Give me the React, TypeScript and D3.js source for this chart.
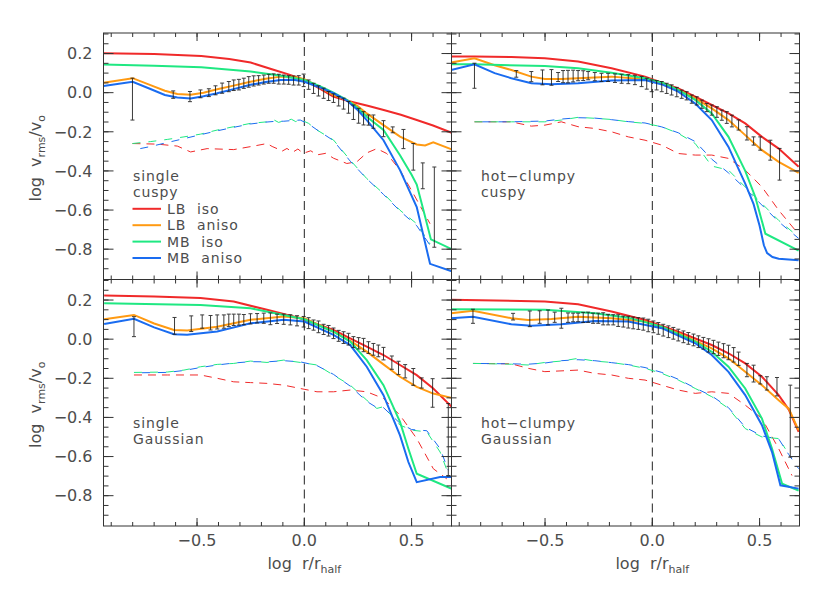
import React from 'react';
import * as d3 from 'd3';

// ---------- axes ----------
const X_DOMAIN = [-0.936, 0.686];
const Y_DOMAIN = [-0.955, 0.305];
const X_MAJOR = [-0.5, 0, 0.5];
const X_LABELS = ['−0.5', '0.0', '0.5'];
const Y_MAJOR = [0.2, 0, -0.2, -0.4, -0.6, -0.8];
const Y_LABELS = ['0.2', '0.0', '−0.2', '−0.4', '−0.6', '−0.8'];
const X_MINOR = d3.range(-9, 7).map((i) => i / 10);
const Y_MINOR = d3.range(-18, 7).map((i) => i * 0.05);

const SERIES_NAMES = ['LB  iso', 'LB  aniso', 'MB  iso', 'MB  aniso'];

// ---------- top-left: single cuspy ----------
const TL_LB_ISO = [[-0.936,0.202],[-0.7,0.198],[-0.48,0.188],[-0.35,0.172],[-0.25,0.154],[-0.14,0.116],[-0.07,0.092],[0,0.065],[0.07,0.022],[0.135,-0.02],[0.2,-0.041],[0.3,-0.068],[0.37,-0.089],[0.45,-0.113],[0.524,-0.14],[0.6,-0.168],[0.687,-0.205]];
const TL_LB_ANISO = [[-0.936,0.051],[-0.8,0.074],[-0.72,0.04],[-0.65,0.01],[-0.592,-0.007],[-0.53,-0.01],[-0.47,0.0],[-0.406,0.017],[-0.33,0.036],[-0.251,0.056],[-0.18,0.071],[-0.11,0.082],[-0.05,0.081],[0,0.069],[0.07,0.03],[0.136,-0.012],[0.198,-0.037],[0.25,-0.07],[0.291,-0.106],[0.369,-0.166],[0.446,-0.225],[0.524,-0.265],[0.563,-0.27],[0.601,-0.254],[0.687,-0.29]];
const TL_MB_ISO = [[-0.936,0.144],[-0.7,0.138],[-0.48,0.13],[-0.25,0.108],[-0.1,0.085],[0,0.065],[0.07,0.035],[0.136,0.0],[0.198,-0.037],[0.25,-0.08],[0.291,-0.123],[0.369,-0.19],[0.446,-0.32],[0.5,-0.42],[0.524,-0.47],[0.555,-0.6],[0.59,-0.75],[0.687,-0.8]];
const TL_MB_ANISO = [[-0.936,0.034],[-0.8,0.056],[-0.72,0.02],[-0.65,-0.012],[-0.592,-0.025],[-0.53,-0.03],[-0.47,-0.018],[-0.406,-0.003],[-0.33,0.018],[-0.251,0.04],[-0.18,0.055],[-0.11,0.065],[-0.05,0.066],[0,0.056],[0.07,0.028],[0.136,-0.003],[0.198,-0.04],[0.25,-0.09],[0.291,-0.14],[0.369,-0.243],[0.446,-0.396],[0.524,-0.585],[0.586,-0.875],[0.687,-0.913]];
const TL_D_RED = [[-0.801,-0.26],[-0.685,-0.263],[-0.592,-0.273],[-0.53,-0.303],[-0.453,-0.286],[-0.329,-0.291],[-0.236,-0.273],[-0.174,-0.26],[-0.15,-0.275],[-0.127,-0.286],[-0.105,-0.3],[-0.081,-0.285],[-0.055,-0.305],[-0.03,-0.288],[-0.005,-0.31],[0.03,-0.297],[0.059,-0.318],[0.1,-0.31],[0.136,-0.335],[0.198,-0.362],[0.245,-0.353],[0.291,-0.308],[0.338,-0.286],[0.384,-0.311],[0.446,-0.396],[0.508,-0.516],[0.586,-0.67]];
const TL_D_GREEN = [[-0.801,-0.26],[-0.716,-0.25],[-0.639,-0.239],[-0.561,-0.226],[-0.484,-0.212],[-0.406,-0.191],[-0.329,-0.174],[-0.251,-0.157],[-0.174,-0.149],[-0.14,-0.14],[-0.12,-0.152],[-0.096,-0.144],[-0.06,-0.136],[-0.04,-0.148],[-0.019,-0.137],[0.02,-0.157],[0.059,-0.191],[0.136,-0.242],[0.214,-0.345],[0.291,-0.439],[0.369,-0.516],[0.446,-0.601],[0.524,-0.67],[0.586,-0.773]];
const TL_D_BLUE = [[-0.801,-0.294],[-0.716,-0.275],[-0.639,-0.255],[-0.561,-0.235],[-0.484,-0.215],[-0.406,-0.195],[-0.329,-0.177],[-0.251,-0.16],[-0.174,-0.15],[-0.13,-0.146],[-0.096,-0.146],[-0.05,-0.142],[-0.019,-0.14],[0.02,-0.16],[0.059,-0.19],[0.136,-0.245],[0.214,-0.35],[0.291,-0.44],[0.369,-0.52],[0.446,-0.605],[0.524,-0.68],[0.586,-0.78]];
const TL_EB = [[-0.801,-0.033,0.107],[-0.611,-0.01,0.019],[-0.533,-0.02,0.026],[-0.484,-0.006,0.02],[-0.445,0.0,0.02],[-0.414,0.012,0.023],[-0.383,0.023,0.026],[-0.352,0.031,0.026],[-0.329,0.038,0.027],[-0.305,0.041,0.027],[-0.282,0.048,0.026],[-0.259,0.055,0.027],[-0.236,0.06,0.026],[-0.213,0.063,0.024],[-0.189,0.067,0.023],[-0.166,0.071,0.023],[-0.143,0.072,0.024],[-0.119,0.069,0.025],[-0.096,0.067,0.023],[-0.073,0.065,0.022],[-0.05,0.062,0.023],[-0.026,0.063,0.024],[-0.003,0.063,0.032],[0.02,0.041,0.024],[0.043,0.022,0.026],[0.066,0.009,0.026],[0.09,-0.003,0.026],[0.113,-0.017,0.023],[0.136,-0.028,0.022],[0.16,-0.044,0.024],[0.183,-0.056,0.028],[0.206,-0.075,0.03],[0.229,-0.1,0.037],[0.253,-0.118,0.038],[0.276,-0.131,0.034],[0.299,-0.14,0.026],[0.322,-0.148,0.034],[0.369,-0.184,0.041],[0.412,-0.19,0.015],[0.462,-0.237,0.049],[0.508,-0.328,0.068],[0.552,-0.425,0.066],[0.606,-0.585,0.205]];

// ---------- top-right: hot-clumpy cuspy ----------
const TR_LB_ISO = [[-0.938,0.185],[-0.829,0.185],[-0.657,0.182],[-0.501,0.176],[-0.346,0.159],[-0.19,0.125],[-0.034,0.082],[0.121,0.022],[0.2,-0.02],[0.277,-0.063],[0.355,-0.106],[0.433,-0.157],[0.511,-0.226],[0.589,-0.286],[0.682,-0.379]];
const TR_LB_ANISO = [[-0.938,0.154],[-0.829,0.176],[-0.735,0.14],[-0.657,0.116],[-0.564,0.082],[-0.501,0.07],[-0.424,0.07],[-0.346,0.074],[-0.19,0.082],[-0.034,0.069],[0.05,0.045],[0.121,0.014],[0.2,-0.029],[0.277,-0.08],[0.355,-0.14],[0.433,-0.217],[0.511,-0.294],[0.589,-0.354],[0.682,-0.41]];
const TR_MB_ISO = [[-0.938,0.145],[-0.829,0.145],[-0.501,0.136],[-0.346,0.125],[-0.19,0.102],[-0.034,0.074],[0.05,0.05],[0.121,0.014],[0.2,-0.037],[0.277,-0.106],[0.355,-0.226],[0.433,-0.4],[0.48,-0.533],[0.527,-0.721],[0.682,-0.807]];
const TR_MB_ANISO = [[-0.938,0.116],[-0.829,0.145],[-0.735,0.1],[-0.657,0.074],[-0.564,0.048],[-0.47,0.043],[-0.346,0.048],[-0.19,0.062],[-0.034,0.065],[0.05,0.04],[0.121,0.005],[0.2,-0.055],[0.277,-0.14],[0.355,-0.277],[0.433,-0.465],[0.472,-0.57],[0.5,-0.68],[0.52,-0.78],[0.535,-0.82],[0.56,-0.84],[0.589,-0.849],[0.682,-0.857]];
const TR_D_RED = [[-0.829,-0.149],[-0.657,-0.149],[-0.564,-0.171],[-0.501,-0.166],[-0.424,-0.149],[-0.346,-0.174],[-0.268,-0.183],[-0.19,-0.2],[-0.112,-0.226],[-0.034,-0.243],[0.044,-0.268],[0.121,-0.311],[0.2,-0.319],[0.277,-0.319],[0.355,-0.336],[0.433,-0.396],[0.511,-0.482],[0.589,-0.601],[0.667,-0.704]];
const TR_D_GREEN = [[-0.829,-0.149],[-0.657,-0.149],[-0.501,-0.149],[-0.424,-0.14],[-0.346,-0.126],[-0.268,-0.131],[-0.19,-0.137],[-0.112,-0.149],[-0.034,-0.157],[0.044,-0.174],[0.121,-0.208],[0.2,-0.26],[0.277,-0.375],[0.355,-0.396],[0.433,-0.482],[0.511,-0.567],[0.589,-0.653],[0.682,-0.738]];
const TR_D_BLUE = [[-0.829,-0.149],[-0.657,-0.149],[-0.501,-0.145],[-0.424,-0.135],[-0.346,-0.128],[-0.268,-0.13],[-0.19,-0.138],[-0.112,-0.148],[-0.034,-0.155],[0.044,-0.175],[0.121,-0.205],[0.2,-0.25],[0.277,-0.34],[0.355,-0.41],[0.433,-0.49],[0.511,-0.575],[0.589,-0.66],[0.682,-0.745]];
const TR_EB = [[-0.829,0.0865,0.064],[-0.634,0.096,0.017],[-0.564,0.082,0.026],[-0.512,0.078,0.038],[-0.47,0.078,0.04],[-0.439,0.08,0.023],[-0.416,0.082,0.031],[-0.393,0.082,0.032],[-0.369,0.085,0.03],[-0.346,0.087,0.026],[-0.322,0.087,0.025],[-0.299,0.087,0.021],[-0.268,0.082,0.021],[-0.237,0.078,0.021],[-0.206,0.078,0.021],[-0.174,0.074,0.022],[-0.143,0.071,0.023],[-0.112,0.069,0.023],[-0.081,0.065,0.024],[-0.05,0.057,0.026],[-0.026,0.046,0.028],[-0.003,0.035,0.03],[0.02,0.038,0.024],[0.044,0.031,0.026],[0.067,0.022,0.026],[0.09,0.014,0.026],[0.114,0.003,0.024],[0.137,-0.008,0.021],[0.16,-0.016,0.021],[0.184,-0.033,0.021],[0.207,-0.042,0.021],[0.231,-0.059,0.021],[0.254,-0.076,0.021],[0.277,-0.089,0.026],[0.301,-0.099,0.027],[0.324,-0.115,0.026],[0.347,-0.127,0.03],[0.371,-0.145,0.03],[0.402,-0.165,0.026],[0.441,-0.208,0.034],[0.472,-0.247,0.021],[0.503,-0.26,0.034],[0.55,-0.294,0.051],[0.593,-0.366,0.081]];

// ---------- bottom-left: single Gaussian ----------
const BL_LB_ISO = [[-0.933,0.223],[-0.7,0.218],[-0.484,0.21],[-0.329,0.192],[-0.174,0.15],[-0.019,0.107],[0.136,0.047],[0.214,0.004],[0.291,-0.038],[0.369,-0.081],[0.446,-0.132],[0.524,-0.184],[0.601,-0.252],[0.687,-0.346]];
const BL_LB_ANISO = [[-0.933,0.102],[-0.794,0.124],[-0.7,0.08],[-0.608,0.047],[-0.546,0.044],[-0.406,0.064],[-0.251,0.099],[-0.096,0.116],[0,0.107],[0.136,0.038],[0.214,-0.009],[0.291,-0.064],[0.369,-0.129],[0.446,-0.192],[0.524,-0.244],[0.601,-0.278],[0.687,-0.3]];
const BL_MB_ISO = [[-0.933,0.184],[-0.484,0.175],[-0.251,0.158],[-0.096,0.124],[0,0.102],[0.136,0.038],[0.214,-0.012],[0.291,-0.107],[0.369,-0.235],[0.446,-0.423],[0.485,-0.56],[0.524,-0.688],[0.687,-0.765]];
const BL_MB_ANISO = [[-0.933,0.077],[-0.794,0.104],[-0.7,0.06],[-0.608,0.025],[-0.546,0.022],[-0.406,0.039],[-0.251,0.081],[-0.096,0.099],[0,0.09],[0.136,0.022],[0.214,-0.03],[0.291,-0.141],[0.369,-0.286],[0.446,-0.492],[0.485,-0.628],[0.524,-0.731],[0.633,-0.705],[0.687,-0.705]];
const BL_D_RED = [[-0.794,-0.183],[-0.639,-0.183],[-0.484,-0.183],[-0.406,-0.2],[-0.329,-0.218],[-0.251,-0.222],[-0.174,-0.226],[-0.096,-0.235],[-0.019,-0.252],[0.059,-0.269],[0.136,-0.269],[0.214,-0.26],[0.291,-0.269],[0.369,-0.303],[0.446,-0.389],[0.524,-0.508],[0.601,-0.662],[0.664,-0.714]];
const BL_D_GREEN = [[-0.794,-0.17],[-0.639,-0.168],[-0.561,-0.158],[-0.484,-0.141],[-0.406,-0.129],[-0.329,-0.124],[-0.251,-0.112],[-0.174,-0.119],[-0.096,-0.107],[-0.019,-0.119],[0.059,-0.132],[0.136,-0.184],[0.214,-0.235],[0.291,-0.312],[0.338,-0.354],[0.369,-0.345],[0.446,-0.44],[0.508,-0.466],[0.571,-0.474],[0.633,-0.577],[0.671,-0.688]];
const BL_D_BLUE = [[-0.794,-0.172],[-0.639,-0.17],[-0.561,-0.16],[-0.484,-0.145],[-0.406,-0.132],[-0.329,-0.122],[-0.251,-0.115],[-0.174,-0.116],[-0.096,-0.11],[-0.019,-0.116],[0.059,-0.135],[0.136,-0.18],[0.214,-0.24],[0.291,-0.318],[0.338,-0.35],[0.369,-0.35],[0.446,-0.43],[0.5,-0.462],[0.571,-0.468],[0.633,-0.56],[0.671,-0.67]];
const BL_EB = [[-0.794,0.064,0.051],[-0.605,0.068,0.043],[-0.527,0.079,0.04],[-0.476,0.09,0.034],[-0.437,0.084,0.037],[-0.406,0.088,0.036],[-0.375,0.09,0.034],[-0.352,0.096,0.032],[-0.329,0.099,0.029],[-0.305,0.1,0.028],[-0.282,0.1,0.026],[-0.251,0.104,0.026],[-0.22,0.107,0.024],[-0.189,0.107,0.026],[-0.158,0.104,0.03],[-0.127,0.104,0.024],[-0.096,0.102,0.026],[-0.065,0.099,0.026],[-0.034,0.094,0.026],[-0.003,0.089,0.027],[0.02,0.082,0.028],[0.043,0.072,0.026],[0.066,0.063,0.03],[0.09,0.05,0.026],[0.113,0.043,0.027],[0.136,0.03,0.027],[0.16,0.017,0.028],[0.183,0.008,0.03],[0.206,0.0,0.03],[0.229,-0.015,0.028],[0.253,-0.021,0.029],[0.276,-0.03,0.034],[0.299,-0.043,0.03],[0.322,-0.052,0.03],[0.345,-0.06,0.03],[0.369,-0.074,0.032],[0.408,-0.12,0.034],[0.439,-0.147,0.034],[0.47,-0.164,0.034],[0.508,-0.193,0.043],[0.547,-0.224,0.026],[0.598,-0.275,0.073],[0.671,-0.513,0.184]];

// ---------- bottom-right: hot-clumpy Gaussian ----------
const BR_LB_ISO = [[-0.938,0.201],[-0.501,0.193],[-0.346,0.179],[-0.19,0.141],[-0.034,0.098],[0.121,0.038],[0.277,-0.03],[0.355,-0.072],[0.433,-0.124],[0.511,-0.192],[0.589,-0.286],[0.636,-0.36],[0.682,-0.474]];
const BR_LB_ANISO = [[-0.938,0.133],[-0.836,0.145],[-0.657,0.107],[-0.579,0.098],[-0.47,0.103],[-0.346,0.115],[-0.19,0.107],[-0.034,0.09],[0.121,0.03],[0.277,-0.047],[0.355,-0.098],[0.433,-0.167],[0.511,-0.235],[0.589,-0.312],[0.636,-0.355],[0.682,-0.466]];
const BR_MB_ISO = [[-0.938,0.153],[-0.501,0.15],[-0.268,0.133],[-0.112,0.11],[0.044,0.064],[0.2,-0.012],[0.277,-0.064],[0.355,-0.141],[0.433,-0.252],[0.511,-0.406],[0.558,-0.56],[0.605,-0.739],[0.682,-0.774]];
const BR_MB_ANISO = [[-0.938,0.107],[-0.836,0.115],[-0.657,0.076],[-0.564,0.069],[-0.424,0.076],[-0.268,0.093],[-0.112,0.09],[0.044,0.056],[0.2,-0.021],[0.277,-0.081],[0.355,-0.167],[0.433,-0.286],[0.511,-0.44],[0.558,-0.577],[0.597,-0.747],[0.682,-0.764]];
const BR_D_RED = [[-0.836,-0.124],[-0.657,-0.126],[-0.579,-0.149],[-0.501,-0.166],[-0.346,-0.158],[-0.268,-0.175],[-0.19,-0.183],[-0.112,-0.2],[-0.034,-0.209],[0.044,-0.235],[0.121,-0.26],[0.2,-0.277],[0.277,-0.269],[0.355,-0.277],[0.433,-0.337],[0.511,-0.406],[0.589,-0.56],[0.651,-0.697]];
const BR_D_GREEN = [[-0.836,-0.124],[-0.657,-0.128],[-0.579,-0.132],[-0.501,-0.119],[-0.424,-0.112],[-0.346,-0.098],[-0.268,-0.112],[-0.19,-0.119],[-0.112,-0.132],[-0.034,-0.149],[0.044,-0.175],[0.121,-0.209],[0.2,-0.252],[0.277,-0.294],[0.355,-0.354],[0.433,-0.457],[0.511,-0.5],[0.589,-0.508],[0.62,-0.56]];
const BR_D_BLUE = [[-0.836,-0.124],[-0.657,-0.126],[-0.579,-0.128],[-0.501,-0.122],[-0.424,-0.11],[-0.346,-0.105],[-0.268,-0.11],[-0.19,-0.12],[-0.112,-0.13],[-0.034,-0.145],[0.044,-0.17],[0.121,-0.205],[0.2,-0.25],[0.277,-0.29],[0.355,-0.35],[0.433,-0.45],[0.511,-0.495],[0.589,-0.51],[0.636,-0.59],[0.682,-0.662]];
const BR_EB = [[-0.836,0.117,0.036],[-0.649,0.115,0.017],[-0.571,0.104,0.04],[-0.525,0.113,0.032],[-0.486,0.111,0.038],[-0.455,0.112,0.026],[-0.424,0.107,0.051],[-0.393,0.11,0.024],[-0.369,0.111,0.022],[-0.346,0.111,0.022],[-0.322,0.111,0.026],[-0.299,0.112,0.026],[-0.276,0.107,0.026],[-0.252,0.107,0.026],[-0.229,0.104,0.031],[-0.206,0.1,0.027],[-0.182,0.099,0.026],[-0.159,0.095,0.03],[-0.135,0.09,0.028],[-0.112,0.087,0.03],[-0.089,0.083,0.03],[-0.065,0.08,0.03],[-0.042,0.077,0.031],[-0.019,0.07,0.032],[0.005,0.063,0.03],[0.028,0.055,0.03],[0.051,0.046,0.03],[0.075,0.038,0.03],[0.098,0.03,0.03],[0.121,0.021,0.03],[0.145,0.012,0.03],[0.168,0.004,0.03],[0.192,-0.004,0.03],[0.215,-0.013,0.03],[0.238,-0.021,0.03],[0.262,-0.032,0.034],[0.285,-0.04,0.034],[0.308,-0.049,0.034],[0.332,-0.059,0.036],[0.355,-0.068,0.037],[0.379,-0.08,0.037],[0.402,-0.1,0.034],[0.441,-0.158,0.034],[0.472,-0.176,0.043],[0.503,-0.208,0.021],[0.534,-0.226,0.034],[0.581,-0.243,0.047],[0.643,-0.419,0.184]];

// ---------- style ----------
const RED = '#f02a2a';
const ORANGE = '#ff9a12';
const GREEN = '#1fe882';
const BLUE = '#1a6cf0';
const SOLID_COLORS = [RED, ORANGE, GREEN, BLUE];
const TEXT = '#4d4d4d';
const FONT = '"DejaVu Sans", "Liberation Sans", sans-serif';
const FS = 16;
const FS_IN = 14;
const LINE_GAP = 16.4;

const LEFT = 103.5, MIDX = 451.5, RIGHT = 799.5;
const TOP = 33, MIDY = 279.5, BOTTOM = 526;

const PANELS = [
  { x0: LEFT, x1: MIDX, y0: TOP, y1: MIDY, text: ['single', 'cuspy'], legend: true, bottomLabels: false, leftLabels: true,
    solid: [TL_LB_ISO, TL_LB_ANISO, TL_MB_ISO, TL_MB_ANISO], dRed: TL_D_RED, dGreen: TL_D_GREEN, dBlue: TL_D_BLUE, eb: TL_EB },
  { x0: MIDX, x1: RIGHT, y0: TOP, y1: MIDY, text: ['hot−clumpy', 'cuspy'], legend: false, bottomLabels: false, leftLabels: false,
    solid: [TR_LB_ISO, TR_LB_ANISO, TR_MB_ISO, TR_MB_ANISO], dRed: TR_D_RED, dGreen: TR_D_GREEN, dBlue: TR_D_BLUE, eb: TR_EB },
  { x0: LEFT, x1: MIDX, y0: MIDY, y1: BOTTOM, text: ['single', 'Gaussian'], legend: false, bottomLabels: true, leftLabels: true,
    solid: [BL_LB_ISO, BL_LB_ANISO, BL_MB_ISO, BL_MB_ANISO], dRed: BL_D_RED, dGreen: BL_D_GREEN, dBlue: BL_D_BLUE, eb: BL_EB },
  { x0: MIDX, x1: RIGHT, y0: MIDY, y1: BOTTOM, text: ['hot−clumpy', 'Gaussian'], legend: false, bottomLabels: true, leftLabels: false,
    solid: [BR_LB_ISO, BR_LB_ANISO, BR_MB_ISO, BR_MB_ANISO], dRed: BR_D_RED, dGreen: BR_D_GREEN, dBlue: BR_D_BLUE, eb: BR_EB },
];

function Panel({ p, idx }: { p: any; idx: number }) {
  const x = d3.scaleLinear().domain(X_DOMAIN).range([p.x0, p.x1]);
  const y = d3.scaleLinear().domain(Y_DOMAIN).range([p.y1, p.y0]);
  const line = d3.line<number[]>().x((d) => x(d[0])).y((d) => y(d[1]));
  const clipId = `clip${idx}`;
  const tickColor = '#333';
  const txt = { fontSize: FS, fill: TEXT, fontFamily: FONT, style: { whiteSpace: 'pre' as const } };
  const txtIn = { fontSize: FS_IN, fill: TEXT, fontFamily: FONT, letterSpacing: 0.9, style: { whiteSpace: 'pre' as const } };
  const base0 = p.y0 + 148;
  const legendY = SERIES_NAMES.map((_, i) => base0 + (i + 2) * LINE_GAP - 5);
  return (
    <g>
      <defs>
        <clipPath id={clipId}>
          <rect x={p.x0} y={p.y0} width={p.x1 - p.x0} height={p.y1 - p.y0} />
        </clipPath>
      </defs>
      <g clipPath={`url(#${clipId})`}>
        <line x1={x(0)} x2={x(0)} y1={p.y0} y2={p.y1} stroke="#222" strokeWidth={1} strokeDasharray="9,5" />
        <path d={line(p.dRed) || ''} fill="none" stroke={RED} strokeWidth={1} strokeDasharray="8,6" />
        <path d={line(p.dGreen) || ''} fill="none" stroke={GREEN} strokeWidth={1} strokeDasharray="8,8" />
        <path d={line(p.dBlue) || ''} fill="none" stroke={BLUE} strokeWidth={1} strokeDasharray="8,8" strokeDashoffset={8} />
        {p.solid.map((s: number[][], i: number) => (
          <path key={i} d={line(s) || ''} fill="none" stroke={SOLID_COLORS[i]} strokeWidth={2} />
        ))}
        {p.eb.map((e: number[], i: number) => {
          const cx = x(e[0]);
          const ya = y(e[1] + e[2]);
          const yb = y(e[1] - e[2]);
          return (
            <g key={i} stroke="#1a1a1a" strokeWidth={1} opacity={0.85}>
              <line x1={cx} x2={cx} y1={ya} y2={yb} />
              <line x1={cx - 2} x2={cx + 2} y1={ya} y2={ya} />
              <line x1={cx - 2} x2={cx + 2} y1={yb} y2={yb} />
            </g>
          );
        })}
      </g>
      {X_MINOR.map((t, i) => (
        <g key={'xm' + i} stroke={tickColor} strokeWidth={1}>
          <line x1={x(t)} x2={x(t)} y1={p.y1} y2={p.y1 - 4} />
          <line x1={x(t)} x2={x(t)} y1={p.y0} y2={p.y0 + 4} />
        </g>
      ))}
      {X_MAJOR.map((t, i) => (
        <g key={'xM' + i} stroke={tickColor} strokeWidth={1}>
          <line x1={x(t)} x2={x(t)} y1={p.y1} y2={p.y1 - 8} />
          <line x1={x(t)} x2={x(t)} y1={p.y0} y2={p.y0 + 8} />
        </g>
      ))}
      {Y_MINOR.map((t, i) => (
        <g key={'ym' + i} stroke={tickColor} strokeWidth={1}>
          <line x1={p.x0} x2={p.x0 + 5} y1={y(t)} y2={y(t)} />
          <line x1={p.x1} x2={p.x1 - 5} y1={y(t)} y2={y(t)} />
        </g>
      ))}
      {Y_MAJOR.map((t, i) => (
        <g key={'yM' + i} stroke={tickColor} strokeWidth={1}>
          <line x1={p.x0} x2={p.x0 + 10} y1={y(t)} y2={y(t)} />
          <line x1={p.x1} x2={p.x1 - 10} y1={y(t)} y2={y(t)} />
        </g>
      ))}
      <rect x={p.x0} y={p.y0} width={p.x1 - p.x0} height={p.y1 - p.y0} fill="none" stroke="#333" strokeWidth={1} />
      {p.leftLabels && Y_MAJOR.map((t, i) => (
        <text key={'yl' + i} x={p.x0 - 11} y={y(t) + 5.8} textAnchor="end" {...txt}>{Y_LABELS[i]}</text>
      ))}
      {p.bottomLabels && X_MAJOR.map((t, i) => (
        <text key={'xl' + i} x={x(t)} y={p.y1 + 20} textAnchor="middle" {...txt}>{X_LABELS[i]}</text>
      ))}
      {p.bottomLabels && (
        <text x={x(0)} y={p.y1 + 43} textAnchor="middle" {...txt}>
          {'log  r/r'}<tspan fontSize={11} dy={4}>half</tspan>
        </text>
      )}
      {p.leftLabels && (
        <text transform={`translate(${41},${(p.y0 + p.y1) / 2 + 2}) rotate(-90)`} textAnchor="middle" {...txt}>
          {'log  v'}<tspan fontSize={11} dy={4}>rms</tspan><tspan dy={-4}>/v</tspan><tspan fontSize={11} dy={4}>o</tspan>
        </text>
      )}
      <text x={p.x0 + 29.5} y={base0} {...txtIn}>{p.text[0]}</text>
      <text x={p.x0 + 29.5} y={base0 + LINE_GAP} {...txtIn}>{p.text[1]}</text>
      {p.legend && SERIES_NAMES.map((n, i) => (
        <g key={'lg' + i}>
          <line x1={p.x0 + 29} x2={p.x0 + 57.5} y1={legendY[i]} y2={legendY[i]} stroke={SOLID_COLORS[i]} strokeWidth={2} />
          <text x={p.x0 + 63.5} y={legendY[i] + 5} {...txtIn}>{n}</text>
        </g>
      ))}
    </g>
  );
}

export default function App() {
  return (
    <svg width={830} height={593} style={{ display: 'block', position: 'absolute', left: 0, top: 0, background: '#fff' }}>
      <rect x={0} y={0} width={830} height={593} fill="#fff" />
      {PANELS.map((p, i) => (
        <Panel key={i} p={p} idx={i} />
      ))}
    </svg>
  );
}
